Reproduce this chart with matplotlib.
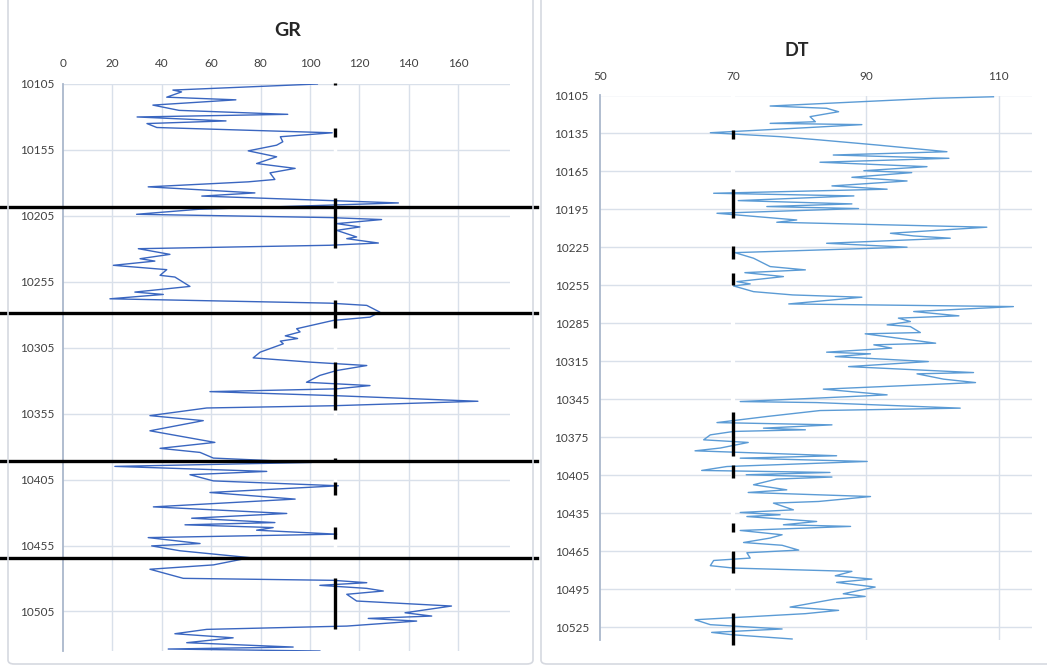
import matplotlib
matplotlib.use("Agg")
import matplotlib.pyplot as plt
from matplotlib.patches import FancyBboxPatch

plt.rcParams['font.family'] = ['Lato', 'DejaVu Sans']

# ---------------------------------------------------------------- data
gr_depth = [10105, 10109.6, 10111, 10115, 10117, 10121, 10125, 10128, 10130, 10133,
            10135, 10138, 10142, 10145, 10148.8, 10151.4, 10155.7, 10160.2, 10165.3, 10169,
            10172.4, 10177.4, 10179.2, 10183, 10187.6, 10190, 10195.2, 10200, 10203.8, 10206.3,
            10207.8, 10210.9, 10213.4, 10216, 10221, 10222.3, 10225.6, 10227.3, 10229.9, 10234.2,
            10237.5, 10239.3, 10242.5, 10245.8, 10250.1, 10251.4, 10258.5, 10262.8, 10264.6, 10267.9,
            10271.2, 10272.9, 10278, 10281.8, 10284.3, 10290.6, 10293, 10296, 10298, 10300,
            10302, 10308.4, 10312.7, 10316, 10318.5, 10322.3, 10326, 10331.2, 10333.7, 10336.2,
            10338.3, 10341.3, 10345.6, 10349, 10350.7, 10356.5, 10360.3, 10368, 10376.8, 10381.3,
            10384.4, 10388.7, 10392, 10395, 10398.8, 10401.3, 10406, 10409.7, 10414.8, 10419.8,
            10425.7, 10430.7, 10434.3, 10437.6, 10439.3, 10441.4, 10443.4, 10446.4, 10449, 10453.5,
            10455.3, 10459, 10464.2, 10469.7, 10473, 10479.9, 10481.4, 10483.2, 10485.2, 10487.5,
            10489.5, 10492, 10497.1, 10500.9, 10506, 10508.5, 10510.3, 10512.3, 10516.1, 10518.6,
            10521.9, 10525, 10528.7, 10532, 10533.5, 10535]
gr_value = [103, 44.5, 48, 42, 70, 36.4, 47, 91, 30, 66,
            34, 38, 109, 88, 89, 86.5, 75, 86.5, 78.4, 94,
            83.8, 85.8, 75, 34.5, 77.7, 56.2, 135.8, 55, 29.8, 108,
            129, 110.8, 120.2, 110.8, 118.9, 114.9, 127.7, 108, 30.5, 43.3,
            31.2, 37.2, 20.4, 42, 39.3, 45.3, 51.4, 29.1, 40.6, 19,
            108, 123, 128.3, 124.3, 109.4, 94.6, 96, 90, 95, 88,
            89.2, 79.8, 77, 100.7, 123, 110.8, 104, 98.6, 124.3, 110.8,
            59.5, 109.4, 168, 109.4, 58.2, 35.2, 56.8, 35.2, 61.5, 39.3,
            55.5, 60.9, 100.7, 21, 82.5, 51.4, 60.9, 111.5, 59.5, 94,
            36.6, 90.6, 52.1, 85.8, 49.4, 85.1, 78.4, 110.8, 34.5, 55.5,
            35.9, 47.4, 75.7, 60.9, 35.2, 48.7, 109.4, 123, 104, 123,
            129.7, 114.9, 118.9, 157.3, 138.5, 149.3, 123.6, 143.2, 114.9, 58.2,
            45.3, 68.9, 50.1, 93.2, 42.6, 104]

dt_depth = [10106, 10107.2, 10113.3, 10115.1, 10117.8, 10121.7, 10125.7, 10127, 10128, 10130.4,
            10134.4, 10137.5, 10140.1, 10144.1, 10149.4, 10152, 10154.6, 10157.7, 10161.2, 10164.4,
            10165.9, 10169.6, 10172.5, 10176.4, 10179, 10182.2, 10184.3, 10188, 10190.6, 10192.7,
            10194.3, 10198, 10203.3, 10205.1, 10209, 10213.8, 10215.9, 10217.7, 10221.7, 10224.8,
            10229.1, 10233.5, 10240.1, 10242.7, 10244.9, 10248, 10252, 10253.8, 10255.4, 10259.9,
            10262.5, 10264.3, 10269.6, 10271.7, 10275.6, 10279, 10280.8, 10283.5, 10286.1, 10287.5,
            10292.2, 10293.2, 10300.6, 10301.9, 10304.5, 10307.7, 10309, 10311.2, 10315.1, 10319.1,
            10323.8, 10324.8, 10329, 10331.7, 10336.9, 10341.4, 10344, 10346.7, 10347.5, 10351.9,
            10353.8, 10358.5, 10363.3, 10365.1, 10367.7, 10369, 10370.3, 10373, 10376.9, 10379,
            10383.4, 10385.6, 10389.5, 10391.4, 10394, 10398, 10401.1, 10402.7, 10404.5, 10406.3,
            10407.9, 10412.4, 10416.4, 10418.5, 10421.7, 10425.6, 10426.9, 10432.2, 10434.3, 10436.1,
            10437.5, 10441.4, 10444, 10445.3, 10448.5, 10451.9, 10454.5, 10458, 10460.2, 10464,
            10466.1, 10470.3, 10472.2, 10476.3, 10478.2, 10480.8, 10484.3, 10486.9, 10489.5, 10493.2,
            10498.5, 10500.6, 10502.6, 10509, 10511.6, 10514.2, 10519, 10522.9, 10526.3, 10529,
            10530.8, 10534.2]
dt_value = [109.2, 100.2, 75.6, 84.1, 85.9, 81.6, 82.4, 75.6, 89.4, 81.1,
            66.6, 77.1, 83.1, 91.7, 102.2, 85.1, 102.5, 83.1, 99.2, 89.7,
            96.9, 87.9, 96.2, 84.9, 93.2, 67.1, 88.2, 70.8, 87.9, 75.1,
            88.9, 67.6, 79.6, 76.6, 108.2, 93.7, 97.2, 102.7, 84.1, 96.2,
            70.3, 73.1, 75.6, 80.9, 71.8, 77.6, 70.6, 72.6, 70.1, 73.1,
            79, 89.4, 78.4, 112.2, 97.2, 104, 94.9, 96.7, 93.2, 96.7,
            98.2, 89.9, 100.5, 91.2, 93.9, 84.1, 90.7, 85.4, 99.4, 87.4,
            106.2, 97.7, 101.7, 106.5, 83.6, 93.2, 82.6, 71.1, 82.6, 104.2,
            83.1, 75.1, 67.6, 84.9, 74.6, 80.9, 70.1, 66.6, 65.6, 72.3,
            68.1, 64.3, 85.6, 71.1, 90.2, 69.1, 65.3, 84.6, 72, 84.9,
            76.6, 73.1, 78.1, 72.3, 90.7, 82.9, 76.1, 79.1, 71.1, 77.1,
            72.1, 82.6, 77.6, 87.7, 71.1, 77.4, 75.6, 71.6, 77.4, 79.9,
            72.1, 72.6, 67.1, 66.6, 70.1, 87.9, 85.4, 90.9, 85.6, 91.4,
            86.6, 89.9, 85.4, 78.6, 85.9, 80.9, 64.3, 66.6, 77.4, 66.8,
            69.8, 78.9]

gr_cutoff = 110
dt_cutoff = 70
# intervals (top, base) where the cutoff marker is drawn in black
gr_cut_zones = [(10104.5, 10105.5), (10138, 10145), (10191.6, 10229), (10269, 10290),
                (10316, 10352), (10388.5, 10390), (10407, 10417), (10441, 10450),
                (10463.5, 10464.8), (10480, 10518)]
dt_cut_zones = [(10132, 10139), (10179, 10202), (10224, 10234), (10245, 10255),
                (10355, 10390), (10397, 10407), (10442.6, 10450), (10465, 10482),
                (10514, 10539)]
zone_tops = [10198.5, 10279, 10390.8, 10464.3]

gr_ticks = [0, 20, 40, 60, 80, 100, 120, 140, 160]
gr_depth_ticks = list(range(10105, 10506, 50))
dt_ticks = [50, 70, 90, 110]
dt_depth_ticks = list(range(10105, 10526, 30))

# ---------------------------------------------------------------- figure
W, H = 1047, 667
fig = plt.figure(figsize=(W / 100, H / 100), dpi=100)


def px(x0, y0, x1, y1):
    return [x0 / W, 1 - y1 / H, (x1 - x0) / W, (y1 - y0) / H]


# chart frames
for x0, x1 in [(8, 533), (541, 1060)]:
    fig.patches.append(FancyBboxPatch((x0 / W, 1 - 664 / H), (x1 - x0) / W, 700 / H,
                                      boxstyle="round,pad=0,rounding_size=0.006",
                                      transform=fig.transFigure, fill=False,
                                      edgecolor='#d6d9e0', lw=1.2, zorder=0))

GRID = '#d9e0ea'
TXT = '#404040'


def style(ax, xt, yt, xlim, ylim, xpad, ypad):
    ax.set_xlim(*xlim)
    ax.set_ylim(*ylim)
    ax.xaxis.tick_top()
    ax.set_xticks(xt)
    ax.set_yticks(yt)
    ax.tick_params(length=0, labelsize=8.5, labelcolor=TXT)
    ax.tick_params(axis='x', pad=xpad)
    ax.tick_params(axis='y', pad=ypad)
    for s in ['top', 'right', 'bottom']:
        ax.spines[s].set_visible(False)
    ax.spines['left'].set_color('#aab8cc')
    ax.spines['left'].set_linewidth(1.3)
    for y in yt:
        ax.axhline(y, color=GRID, lw=1, zorder=0)


# ---------------------------------------------------------------- GR
ax1 = fig.add_axes(px(63, 84, 510, 651))
style(ax1, gr_ticks, gr_depth_ticks, (0, 181), (10535, 10105), 11, 6)
for x in gr_ticks[1:]:
    ax1.axvline(x, color=GRID, lw=1, zorder=0)
ax1.axvline(gr_cutoff, color='white', lw=2.5, zorder=1)
ax1.plot(gr_value, gr_depth, color='#3a66c0', lw=1.0, zorder=2)
for top, base in gr_cut_zones:
    ax1.plot([gr_cutoff, gr_cutoff], [top, base], color='black', lw=2.4,
             solid_capstyle='butt', zorder=3, clip_on=False)
for d in zone_tops:
    ax1.plot([-0.141, 1.06], [d, d], color='black', lw=2.4,
             transform=ax1.get_yaxis_transform(), clip_on=False, zorder=4)
fig.text(288 / W, 1 - 31 / H, 'GR', ha='center', va='center',
         fontsize=14, fontweight='bold', color='#262626')

# ---------------------------------------------------------------- DT
ax2 = fig.add_axes(px(600, 95.5, 1032, 640))
style(ax2, dt_ticks, dt_depth_ticks, (50, 115), (10535, 10105), 10, 8)
for x in [90, 110]:
    ax2.axvline(x, color=GRID, lw=1, zorder=0)
ax2.axvline(dt_cutoff, color='white', lw=3, zorder=1)
ax2.plot(dt_value, dt_depth, color='#5b9bd5', lw=1.0, zorder=2)
for top, base in dt_cut_zones:
    ax2.plot([dt_cutoff, dt_cutoff], [top, base], color='black', lw=2.4,
             solid_capstyle='butt', zorder=3, clip_on=False)
fig.text(797 / W, 1 - 51 / H, 'DT', ha='center', va='center',
         fontsize=13, fontweight='bold', color='#262626')

fig.savefig('out.png', dpi=100)
